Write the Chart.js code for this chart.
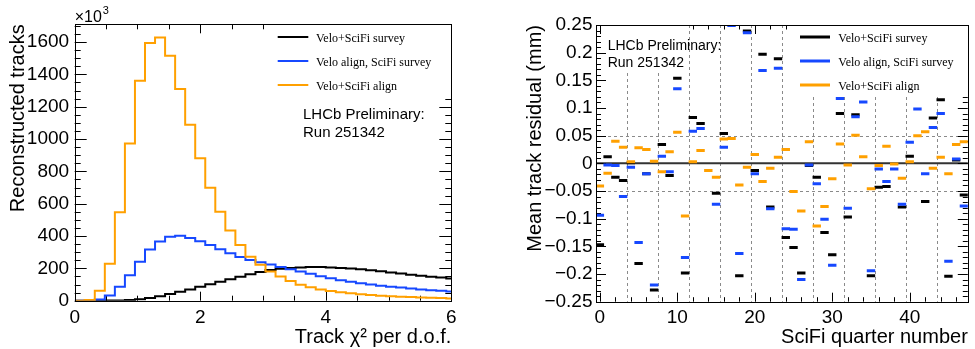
<!DOCTYPE html>
<html lang="en">
<head>
<meta charset="UTF-8">
<title>SciFi alignment</title>
<script src="https://cdn.jsdelivr.net/npm/chart.js"></script>
<style>
  html, body { margin: 0; padding: 0; background: #fff; }
  #wrap { position: relative; width: 975px; height: 349px; }
  canvas { position: absolute; top: 0; }
  #chi2Chart { left: 0; }
  #residualChart { left: 487px; }
</style>
</head>
<body>
<div id="wrap">
  <canvas id="chi2Chart" width="487" height="349"></canvas>
  <canvas id="residualChart" width="488" height="349"></canvas>
</div>
<script>
// ---- left panel: track chi2 histograms (bins of 0.16, counts in 10^3)
const chi2BinWidth = 0.16;
const chi2Max = 6;
const chi2Ticks = [0, 2, 4, 6];
const trackTicks = [0, 200, 400, 600, 800, 1000, 1200, 1400, 1600];
const tracksSurvey = [0, 0, 0, 1, 2, 4, 9, 17, 28, 41, 55, 70, 86, 101, 117, 132, 148, 164,
  178, 190, 198, 203, 206, 208, 208, 206, 203, 199, 194, 188, 182, 175, 168, 161, 154, 148, 143, 138];
const tracksVeloAlign = [0, 2, 8, 32, 86, 158, 241, 317, 367, 395, 402, 388, 368, 344, 318, 293, 270, 252,
  238, 224, 209, 195, 180, 166, 152, 139, 127, 117, 108, 100, 93, 87, 81, 75, 70, 65, 61, 57];
const tracksFullAlign = [0, 5, 62, 228, 547, 973, 1360, 1594, 1629, 1516, 1309, 1089, 881, 699, 551, 435, 345, 272,
  223, 180, 149, 122, 98, 83, 70, 60, 52, 46, 40, 35, 31, 27, 25, 23, 20, 18, 16, 14];

// ---- right panel: mean residual per SciFi quarter (mm), null = off scale
const quarters = Array.from({length: 48}, (_, i) => i);
const quarterTicks = [0, 10, 20, 30, 40];
const quarterBoundaries = [3.5, 7.5, 11.5, 15.5, 19.5, 23.5, 27.5, 31.5, 35.5, 39.5, 43.5];
const residualTicks = [-0.25, -0.2, -0.15, -0.1, -0.05, 0, 0.05, 0.1, 0.15, 0.2, 0.25];
const residualLabels = ['\u22120.25', '\u22120.2', '\u22120.15', '\u22120.1', '\u22120.05', '0',
  '0.05', '0.1', '0.15', '0.2', '0.25'];
const residualSurvey = [-0.147, 0.012, -0.025, -0.031, 0.001, -0.181, -0.019, -0.229, 0.034, -0.022,
  0.154, -0.198, 0.083, 0.072, null, -0.054, 0.054, null, -0.203, 0.239,
  -0.013, 0.197, -0.079, 0.189, -0.134, -0.152, -0.198, -0.004, -0.025, -0.125,
  -0.165, 0.090, -0.097, 0.088, null, -0.203, -0.043, -0.042, null, -0.079,
  0.013, null, -0.069, 0.082, 0.115, -0.204, 0.006, -0.057];
const residualVeloAlign = [-0.094, -0.003, -0.004, -0.060, -0.007, -0.143, -0.019, -0.220, 0.013, -0.015,
  0.135, -0.170, 0.058, 0.063, null, -0.074, 0.029, 0.249, -0.163, 0.236,
  -0.019, 0.168, -0.082, 0.172, -0.118, -0.119, -0.210, -0.003, -0.037, -0.101,
  -0.184, 0.117, -0.081, 0.084, 0.111, -0.194, -0.010, -0.033, -0.010, -0.074,
  0.038, 0.098, -0.019, 0.065, 0.090, -0.177, 0.008, -0.077];
const residualFullAlign = [-0.041, -0.018, 0.040, 0.029, 0.003, 0.028, 0.025, 0.004, -0.015, 0.021,
  0.056, -0.095, 0.003, 0.023, -0.013, -0.025, 0.044, 0.045, -0.039, -0.007,
  0.016, -0.033, -0.009, 0.011, 0.025, -0.051, -0.086, 0.039, -0.113, -0.078,
  -0.028, 0.035, -0.003, 0.051, 0.012, -0.046, -0.004, 0.031, -0.001, -0.027,
  0.003, 0.050, 0.057, -0.009, 0.011, -0.019, 0.034, 0.039];

const seriesNames = ['Velo+SciFi survey', 'Velo align, SciFi survey', 'Velo+SciFi align'];
const seriesColors = ['#000000', '#1648ff', '#ffa000'];

const SANS = "'Liberation Sans', Arial, sans-serif";
const SERIF = "'Liberation Serif', 'Times New Roman', serif";
Chart.defaults.font.family = SANS;
Chart.defaults.color = '#000';

function histPoints(vals) {
  const pts = vals.map((v, i) => ({x: i * chi2BinWidth, y: v}));
  pts.push({x: chi2Max, y: vals[vals.length - 1]});
  return pts;
}

function line(ctx, x0, y0, x1, y1) {
  ctx.beginPath(); ctx.moveTo(x0, y0); ctx.lineTo(x1, y1); ctx.stroke();
}

// ROOT style decorations: inward ticks on all sides, grid, legend, labels, frame
function rootDecor(cfg) {
  return {
    id: 'rootDecor',
    beforeDatasetsDraw(chart) {
      const {ctx, chartArea: a, scales: {x, y}} = chart;
      ctx.save();
      if (cfg.grid) {
        ctx.strokeStyle = '#8a8a8a'; ctx.lineWidth = 1; ctx.setLineDash([3, 3]);
        cfg.grid.x.forEach(v => { const p = Math.round(x.getPixelForValue(v)) + 0.5; line(ctx, p, a.top, p, a.bottom); });
        cfg.grid.y.forEach(v => { const p = Math.round(y.getPixelForValue(v)) + 0.5; line(ctx, a.left, p, a.right, p); });
        ctx.setLineDash([]);
        ctx.strokeStyle = '#333'; ctx.lineWidth = 2;
        const p0 = y.getPixelForValue(0);
        line(ctx, a.left, p0, a.right, p0);
      }
      ctx.strokeStyle = '#000'; ctx.lineWidth = 1;
      const t = cfg.ticks;
      const each = (min, max, step, fn) => {
        for (let k = Math.ceil(min / step - 1e-9); k * step <= max + 1e-9; k++) fn(k * step);
      };
      const isMajor = (v, list) => list.some(m => Math.abs(m - v) < 1e-9);
      each(x.min, x.max, t.x.minor, v => {
        const len = isMajor(v, t.x.major) ? t.x.majLen : t.x.minLen;
        const p = Math.round(x.getPixelForValue(v)) + 0.5;
        line(ctx, p, a.bottom, p, a.bottom - len);
        line(ctx, p, a.top, p, a.top + len);
      });
      each(y.min, y.max, t.y.minor, v => {
        const len = isMajor(v, t.y.major) ? t.y.majLen : t.y.minLen;
        const p = Math.round(y.getPixelForValue(v)) + 0.5;
        line(ctx, a.left, p, a.left + len, p);
        line(ctx, a.right, p, a.right - len, p);
      });
      // legend
      const L = cfg.legend;
      ctx.fillStyle = '#fff';
      ctx.fillRect(L.x, L.y, L.w, L.h);
      seriesNames.forEach((name, i) => {
        const ly = L.lineY + i * L.dy;
        ctx.strokeStyle = seriesColors[i]; ctx.lineWidth = L.lw;
        line(ctx, L.lx0, ly, L.lx1, ly);
        ctx.fillStyle = '#000'; ctx.font = '12px ' + SERIF; ctx.textBaseline = 'alphabetic';
        ctx.fillText(name, L.tx, ly + 4.5);
      });
      // LHCb label
      const T = cfg.label;
      if (T.box) { ctx.fillStyle = '#fff'; ctx.fillRect(T.box[0], T.box[1], T.box[2], T.box[3]); }
      ctx.fillStyle = '#000'; ctx.font = T.size + 'px ' + SANS; ctx.textBaseline = 'alphabetic';
      ctx.fillText('LHCb Preliminary:', T.x, T.y0);
      ctx.fillText('Run 251342', T.x, T.y1);
      if (cfg.exponent) {
        ctx.font = '16px ' + SANS; ctx.fillText('\u00d710', a.left, 21.5);
        ctx.font = '11px ' + SANS; ctx.fillText('3', a.left + 28, 14);
      }
      ctx.restore();
    },
    afterDatasetsDraw(chart) {
      const {ctx, chartArea: a} = chart;
      ctx.save();
      ctx.strokeStyle = '#000'; ctx.lineWidth = 1;
      ctx.strokeRect(Math.round(a.left) + 0.5, Math.round(a.top) + 0.5,
        Math.round(a.right) - Math.round(a.left), Math.round(a.bottom) - Math.round(a.top));
      ctx.restore();
    }
  };
}

const tickFont = {family: SANS, size: 19};
const titleFont = {family: SANS, size: 20};

// ---------------- left chart
new Chart(document.getElementById('chi2Chart'), {
  type: 'scatter',
  data: {
    datasets: [tracksSurvey, tracksVeloAlign, tracksFullAlign].map((vals, i) => ({
      label: seriesNames[i],
      data: histPoints(vals),
      showLine: true,
      stepped: 'before',
      borderColor: seriesColors[i],
      borderWidth: 2,
      pointRadius: 0,
      order: 3 - i
    }))
  },
  options: {
    responsive: false,
    animation: false,
    layout: {padding: {left: 0, top: 24.3, right: 35.7, bottom: 0}},
    plugins: {legend: {display: false}, tooltip: {enabled: false}},
    scales: {
      x: {
        type: 'linear', min: 0, max: chi2Max,
        afterBuildTicks: s => { s.ticks = chi2Ticks.map(v => ({value: v})); },
        afterFit: s => { s.height = 48.3; },
        grid: {display: false, drawTicks: false}, border: {display: false},
        ticks: {font: tickFont, padding: 6, maxRotation: 0, autoSkip: false, callback: v => String(v)},
        title: {display: true, text: 'Track \u03c7\u00b2 per d.o.f.', align: 'end', font: titleFont, padding: {top: 0, bottom: 0}}
      },
      y: {
        min: 0, max: 1710,
        afterBuildTicks: s => { s.ticks = trackTicks.map(v => ({value: v})); },
        afterFit: s => { s.width = 74.7; },
        grid: {display: false, drawTicks: false}, border: {display: false},
        ticks: {font: tickFont, padding: 5.6, callback: v => String(v)},
        title: {display: true, text: 'Reconstructed tracks', align: 'end', font: titleFont, padding: {top: 6.2, bottom: 0}}
      }
    }
  },
  plugins: [rootDecor({
    ticks: {
      x: {major: chi2Ticks, minor: 0.5, majLen: 9, minLen: 5},
      y: {major: trackTicks, minor: 50, majLen: 12, minLen: 6}
    },
    legend: {x: 270, y: 25, w: 181, h: 71, lineY: 37, dy: 24, lx0: 277.7, lx1: 308.3, tx: 316, lw: 2},
    label: {x: 303, y0: 118.5, y1: 136.5, size: 15},
    exponent: true
  })]
});

// ---------------- right chart
new Chart(document.getElementById('residualChart'), {
  type: 'scatter',
  data: {
    datasets: [residualSurvey, residualVeloAlign, residualFullAlign].map((vals, i) => ({
      label: seriesNames[i],
      data: quarters.map((q, j) => ({x: q, y: vals[j]})),
      pointStyle: 'line',
      pointRadius: 4.2,
      pointBorderWidth: 3,
      borderColor: seriesColors[i],
      backgroundColor: seriesColors[i],
      order: 3 - i
    }))
  },
  options: {
    responsive: false,
    animation: false,
    layout: {padding: {left: 0, top: 25, right: 1.7, bottom: 0}},
    plugins: {legend: {display: false}, tooltip: {enabled: false}},
    scales: {
      x: {
        type: 'linear', min: -0.5, max: 47.5,
        afterBuildTicks: s => { s.ticks = quarterTicks.map(v => ({value: v})); },
        afterFit: s => { s.height = 47.3; },
        grid: {display: false, drawTicks: false}, border: {display: false},
        ticks: {font: tickFont, padding: 5, maxRotation: 0, autoSkip: false, callback: v => String(v)},
        title: {display: true, text: 'SciFi quarter number', align: 'end', font: titleFont, padding: {top: 0, bottom: 0}}
      },
      y: {
        min: -0.25, max: 0.25,
        afterBuildTicks: s => { s.ticks = residualTicks.map(v => ({value: v})); },
        afterFit: s => { s.width = 109; },
        grid: {display: false, drawTicks: false}, border: {display: false},
        ticks: {font: tickFont, padding: 3.5, callback: (v, i) => residualLabels[i]},
        title: {display: true, text: 'Mean track residual (mm)', align: 'end', font: titleFont, padding: {top: 36.2, bottom: 0}}
      }
    }
  },
  plugins: [rootDecor({
    grid: {x: quarterBoundaries, y: [-0.05, 0.05]},
    ticks: {
      x: {major: quarterTicks, minor: 2, majLen: 9, minLen: 4.5},
      y: {major: residualTicks, minor: 0.01, majLen: 10, minLen: 5}
    },
    legend: {x: 303, y: 25, w: 183, h: 71, lineY: 37, dy: 24, lx0: 313, lx1: 343, tx: 351.3, lw: 3},
    label: {x: 120.7, y0: 50, y1: 66.7, size: 14, box: [119, 26, 77, 46]},
    exponent: false
  })]
});
</script>
</body>
</html>
